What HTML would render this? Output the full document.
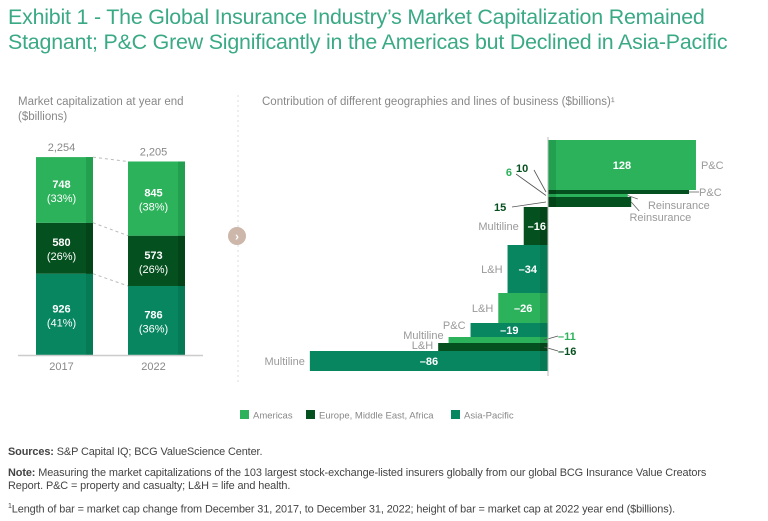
<!DOCTYPE html>
<html><head><meta charset="utf-8">
<style>
body{margin:0;width:768px;height:521px;background:#fff;font-family:"Liberation Sans",sans-serif;overflow:hidden}
#title{position:absolute;left:8px;top:5px;font-size:21.4px;line-height:25px;color:#3aa985;letter-spacing:-0.2px}
.foot{position:absolute;left:8px;font-size:10.9px;color:#444;line-height:13px;letter-spacing:-0.1px}
</style></head><body>
<div id="title">Exhibit 1 - The Global Insurance Industry’s Market Capitalization Remained<br>Stagnant; P&amp;C Grew Significantly in the Americas but Declined in Asia-Pacific</div>
<svg id="c" width="768" height="521" style="position:absolute;left:0;top:0"></svg>
<div class="foot" style="top:446px"><b>Sources:</b> S&amp;P Capital IQ; BCG ValueScience Center.</div>
<div class="foot" style="top:467px"><b>Note:</b> Measuring the market capitalizations of the 103 largest stock-exchange-listed insurers globally from our global BCG Insurance Value Creators<br>Report. P&amp;C = property and casualty; L&amp;H = life and health.</div>
<div class="foot" style="top:500px"><sup style="font-size:7px">1</sup>Length of bar = market cap change from December 31, 2017, to December 31, 2022; height of bar = market cap at 2022 year end ($billions).</div>
<script>
const years=["2017","2022"];
const americas=[748,845];
const emea=[580,573];
const apac=[926,786];
const shares=[["33%","26%","41%"],["38%","26%","36%"]];
const totals=["2,254","2,205"];
// waterfall
const wfLines=["P&C","P&C","Reinsurance","Reinsurance","Multiline","L&H","L&H","P&C","Multiline","L&H","Multiline"];
const wfRegions=[0,1,0,1,1,2,0,2,0,1,2];
const wfChanges=[128,10,6,15,-16,-34,-26,-19,-11,-16,-86];
const wfLength=[128,122,69,72,-21,-35,-43,-67,-86,-95,-206];
const wfCap=[200,16,12,40,152,192,120,56,24,32,80];

const S=document.getElementById('c');const NS="http://www.w3.org/2000/svg";
function mk(t,a,txt){const e=document.createElementNS(NS,t);for(const k in a)e.setAttribute(k,a[k]);if(txt!==undefined)e.textContent=txt;S.appendChild(e);return e;}
const col=["#2bb25a","#05501f","#078660"],dk=["#22a050","#034418","#067a55"];
let t=mk('text',{x:18,y:105,'font-size':11.5,fill:'#888'},'Market capitalization at year end');

t=mk('text',{x:18,y:120,'font-size':11.5,fill:'#888'},'($billions)');

const base=355,ys=v=>v*0.0878;const bx=[36,128],bw=57;
const prev=[];
years.forEach((yr,i)=>{
  const vals=[apac[i],emea[i],americas[i]];const sh=[shares[i][2],shares[i][1],shares[i][0]];const ci=[2,1,0];
  let y=base;const bounds=[];
  vals.forEach((v,j)=>{
    const h=ys(v);y-=h;bounds.push(y);
    let r=mk('rect',{x:bx[i],y:y,width:bw,height:h,fill:col[ci[j]]});
    
    mk('rect',{x:bx[i]+bw-7,y:y,width:7,height:h,fill:dk[ci[j]]});
    let a=mk('text',{x:bx[i]+bw/2-3,y:y+h/2-2,'font-size':11,'font-weight':'bold',fill:'#fff','text-anchor':'middle'},v);
    
    a=mk('text',{x:bx[i]+bw/2-3,y:y+h/2+12,'font-size':11,fill:'#fff','text-anchor':'middle'},'('+sh[j]+')');
    
  });
  prev.push(bounds);
  t=mk('text',{x:bx[i]+bw/2-3,y:y-6,'font-size':11,fill:'#888','text-anchor':'middle'},totals[i]);
  
  t=mk('text',{x:bx[i]+bw/2-3,y:370,'font-size':11,fill:'#888','text-anchor':'middle'},yr);
  
});
for(let j=0;j<3;j++){const l=mk('line',{x1:bx[0]+bw,y1:prev[0][j],x2:bx[1],y2:prev[1][j],stroke:'#bbb','stroke-dasharray':'3,3'});
}
t=mk('line',{x1:18,y1:base+0.5,x2:203,y2:base+0.5,stroke:'#ccc','stroke-width':1.5});

t=mk('line',{x1:238,y1:95,x2:238,y2:382,stroke:'#ddd','stroke-dasharray':'2,3'});

t=mk('circle',{cx:237,cy:236,r:9,fill:'#cdb6aa'});

mk('text',{x:237,y:240.5,'font-size':12,fill:'#fff','text-anchor':'middle','font-weight':'bold'},'›');
t=mk('text',{x:262,y:105,'font-size':11.5,fill:'#888'},'Contribution of different geographies and lines of business ($billions)¹');

const ax=548,xs=v=>v*1.156,hs=v=>v*0.25;
let y=140;const regNames=['americas','emea','asia-pacific'];
const labelCol=['#2bb25a','#05501f'];
wfChanges.forEach((c,i)=>{
  const w=xs(wfLength[i]),h=hs(wfCap[i]);const x=w>=0?ax:ax+w;const W=Math.abs(w);
  const r=mk('rect',{x:x,y:y,width:W,height:h,fill:col[wfRegions[i]]});
  
  
  if(w>=0)mk('rect',{x:ax,y:y,width:Math.min(8,W),height:h,fill:dk[wfRegions[i]]});
  else mk('rect',{x:ax-8,y:y,width:8,height:h,fill:dk[wfRegions[i]]});
  const txt=c>0?String(c):'–'+Math.abs(c);
  let lab;
  if(h>=14){lab=mk('text',{x:x+W/2+(W<30?1:0),y:y+h/2+4,'font-size':11,'font-weight':'bold',fill:'#fff','text-anchor':'middle'},txt);}
  else{
    const side=w>=0?'l':'r';
    if(side==='l'){
      const ly={1:172,2:176,3:211}[i];const lx={1:516,2:512,3:494}[i];
      mk('line',{x1:lx+(i==2?4:18),y1:ly-(i==3?4:2),x2:ax-2,y2:y+h/2,stroke:'#555','stroke-width':0.8});
      lab=mk('text',{x:lx,y:ly,'font-size':11,'font-weight':'bold',fill:labelCol[wfRegions[i]],'text-anchor':i==2?'end':'start'},txt);
    }else{
      const ly=y+h/2+(i==8?0:8);
      mk('line',{x1:ax-4,y1:y+h/2,x2:ax+10,y2:ly-4,stroke:'#555','stroke-width':0.8});
      lab=mk('text',{x:ax+10,y:ly,'font-size':11,'font-weight':'bold',fill:labelCol[wfRegions[i]]},txt);
    }
  }
  
  let cl;
  if(w>=0){
    if(i==0)cl=mk('text',{x:x+W+5,y:y+h/2+4,'font-size':11,fill:'#999'},wfLines[i]);
    else if(i==1){mk('line',{x1:x+W,y1:y+h/2,x2:x+W+10,y2:y+h/2,stroke:'#666','stroke-width':0.8});cl=mk('text',{x:x+W+10,y:y+h/2+4,'font-size':11,fill:'#999'},wfLines[i]);}
    else{const ty=i==2?209:221;mk('line',{x1:x+W,y1:y+h/2,x2:x+W+(i==2?10:8),y2:ty-10,stroke:'#666','stroke-width':0.8});cl=mk('text',{x:i==2?x+W+82:x+W+60,y:ty,'font-size':11,fill:'#999','text-anchor':'end'},wfLines[i]);}
  }else{
    const ly=i==8?y+2:(i==7?y+6:(i==9?y+6:y+h/2+4));
    cl=mk('text',{x:x-5,y:ly,'font-size':11,fill:'#999','text-anchor':'end'},wfLines[i]);
  }
  
  y+=h;
});
t=mk('line',{x1:ax,y1:137,x2:ax,y2:376,stroke:'#bbb',"stroke-width":1});

const leg=[["Americas",240],["Europe, Middle East, Africa",306],["Asia-Pacific",451]];
leg.forEach((l,i)=>{const r=mk('rect',{x:l[1],y:410,width:9,height:9,fill:col[i]});

const tx=mk('text',{x:l[1]+13,y:418.5,'font-size':9.5,fill:'#888'},l[0]);
});
</script>
</body></html>
